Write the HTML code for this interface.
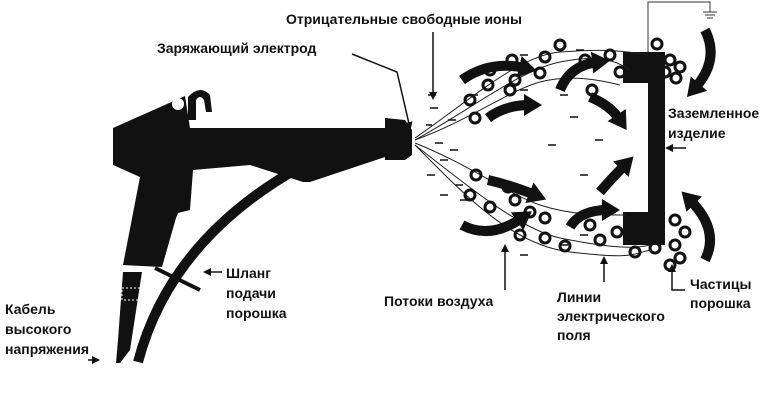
<!DOCTYPE html>
<html><head><meta charset="utf-8"><style>
html,body{margin:0;padding:0;background:#fff;}
svg{display:block}
text{font-family:"Liberation Sans",Arial,sans-serif;font-weight:bold;font-size:14px;fill:#111}
</style></head><body>
<svg width="777" height="400" viewBox="0 0 777 400" xmlns="http://www.w3.org/2000/svg">
<defs>
<marker id="ah" markerWidth="8" markerHeight="8" refX="6" refY="4" orient="auto" markerUnits="userSpaceOnUse"><path d="M0,0 L8,4 L0,8z" fill="#111"/></marker>
<marker id="big" markerWidth="22" markerHeight="22" refX="6" refY="11" orient="auto" markerUnits="userSpaceOnUse"><path d="M0,0 L18,11 L0,22z" fill="#111"/></marker>
</defs>
<!-- hose -->
<path d="M138,362 Q170,240 300,167" stroke="#111" stroke-width="10" fill="none"/>
<!-- cable -->
<path d="M123,272 L142,272 L130,350 L120,363 L116,363 L118,340z" fill="#111"/>
<rect x="122" y="288" width="18" height="12" fill="none" stroke="#fff" stroke-width="1" stroke-dasharray="2,2"/>
<!-- gun -->
<path d="M113,128 L185,96 L190,128 L385,128 L385,118 L405,120 L412,130 L412,155 L405,160 L385,160 L385,157 L310,182 L303,182 L250,165 L193,170 L190,210 L178,213 L176,218 L162,267 L123,265 L140,177 L113,165z" fill="#111"/>
<circle cx="178" cy="104" r="6" fill="#fff"/>
<path d="M188,97 Q200,84 210,95 L212,112 L206,112 L204,100 Q200,94 196,100 L196,120 L188,120z" fill="#111"/>
<path d="M155,268 L200,290" stroke="#111" stroke-width="4"/>
<!-- part -->
<path d="M623,52 L665,52 L665,245 L623,245 L623,212 L648,212 L648,83 L623,83z" fill="#111"/>
<path d="M648,52 L648,2 L710,2 L710,12 M703,12 L717,12 M705,15 L715,15 M707,18 L713,18" stroke="#333" stroke-width="1" fill="none"/>
<!-- field lines -->
<g stroke="#222" stroke-width="1" fill="none">
<path d="M415,138 C470,100 520,55 560,52 S620,50 648,55"/>
<path d="M415,140 C470,110 520,70 560,62 S615,60 630,70"/>
<path d="M415,140 C470,120 510,90 540,82 S600,80 620,85"/>
<path d="M415,143 C470,165 510,195 540,205 S600,215 625,215"/>
<path d="M415,145 C460,180 520,230 560,238 S630,250 650,245"/>
<path d="M415,145 C460,190 510,245 570,252 S630,255 650,250"/>
</g>
<!-- ions -->
<g stroke="#111" stroke-width="1.5">
<path d="M428,95h8 M430,108h8 M448,120h8 M426,125h6 M435,143h8 M440,160h8 M427,175h8 M455,185h8 M440,195h8 M470,95h8 M520,90h8 M560,95h8 M570,117h8 M548,145h8 M580,175h8 M460,200h8 M520,255h8 M560,245h8 M580,235h8 M595,140h8 M605,105h8 M576,50h8 M520,55h8 M450,150h8"/>
</g>
<!-- particles -->
<g fill="none" stroke="#111" stroke-width="3">
<circle cx="560" cy="45" r="5"/><circle cx="545" cy="57" r="5"/><circle cx="512" cy="60" r="5"/><circle cx="490" cy="70" r="5"/><circle cx="515" cy="80" r="5"/><circle cx="540" cy="73" r="5"/>
<circle cx="585" cy="60" r="5"/><circle cx="610" cy="55" r="5"/><circle cx="620" cy="72" r="5"/><circle cx="470" cy="100" r="5"/><circle cx="488" cy="85" r="5"/><circle cx="475" cy="118" r="5"/><circle cx="510" cy="90" r="5"/>
<circle cx="592" cy="90" r="5"/><circle cx="657" cy="44" r="5"/><circle cx="670" cy="60" r="5"/><circle cx="680" cy="67" r="5"/><circle cx="676" cy="78" r="5"/><circle cx="665" cy="72" r="5"/>
<circle cx="476" cy="175" r="5"/><circle cx="470" cy="195" r="5"/><circle cx="490" cy="207" r="5"/><circle cx="508" cy="187" r="5"/><circle cx="515" cy="200" r="5"/><circle cx="530" cy="212" r="5"/><circle cx="545" cy="218" r="5"/>
<circle cx="520" cy="235" r="5"/><circle cx="545" cy="238" r="5"/><circle cx="565" cy="246" r="5"/><circle cx="590" cy="225" r="5"/><circle cx="600" cy="240" r="5"/><circle cx="617" cy="232" r="5"/><circle cx="635" cy="252" r="5"/>
<circle cx="655" cy="248" r="5"/><circle cx="675" cy="220" r="5"/><circle cx="685" cy="232" r="5"/><circle cx="675" cy="245" r="5"/><circle cx="680" cy="258" r="5"/><circle cx="670" cy="265" r="5"/>
</g>
<!-- air flow arrows -->
<g stroke="#111" stroke-width="10" fill="none" marker-end="url(#big)">
<path d="M462,80 Q490,60 525,68"/>
<path d="M488,118 Q505,105 530,105"/>
<path d="M560,90 Q570,65 598,62"/>
<path d="M590,97 Q610,105 620,120"/>
<path d="M705,30 Q720,60 695,88"/>
<path d="M462,225 Q490,240 522,218"/>
<path d="M488,180 Q510,185 535,195"/>
<path d="M570,227 Q580,210 608,210"/>
<path d="M600,192 Q610,180 625,165"/>
<path d="M705,260 Q720,230 690,200"/>
</g>
<!-- label leaders -->
<g stroke="#111" stroke-width="1.5" fill="none" marker-end="url(#ah)">
<path d="M352,54 L397,72 L410,128"/>
<path d="M433,32 L433,98"/>
<path d="M686,148 L667,148"/>
<path d="M222,272 L205,272"/>
<path d="M88,360 L98,360"/>
<path d="M505,290 L505,246"/>
<path d="M604,282 L604,258"/>
<path d="M685,290 L672,290 L672,266"/>
</g>
<!-- labels -->
<text x="286" y="24">Отрицательные свободные ионы</text>
<text x="157" y="53">Заряжающий электрод</text>
<text x="668" y="118">Заземленное</text>
<text x="668" y="138">изделие</text>
<text x="226" y="278">Шланг</text>
<text x="226" y="298">подачи</text>
<text x="226" y="318">порошка</text>
<text x="5" y="314">Кабель</text>
<text x="5" y="334">высокого</text>
<text x="5" y="354">напряжения</text>
<text x="384" y="306">Потоки воздуха</text>
<text x="557" y="302">Линии</text>
<text x="557" y="321">электрического</text>
<text x="557" y="340">поля</text>
<text x="690" y="289">Частицы</text>
<text x="690" y="308">порошка</text>
</svg>
</body></html>
